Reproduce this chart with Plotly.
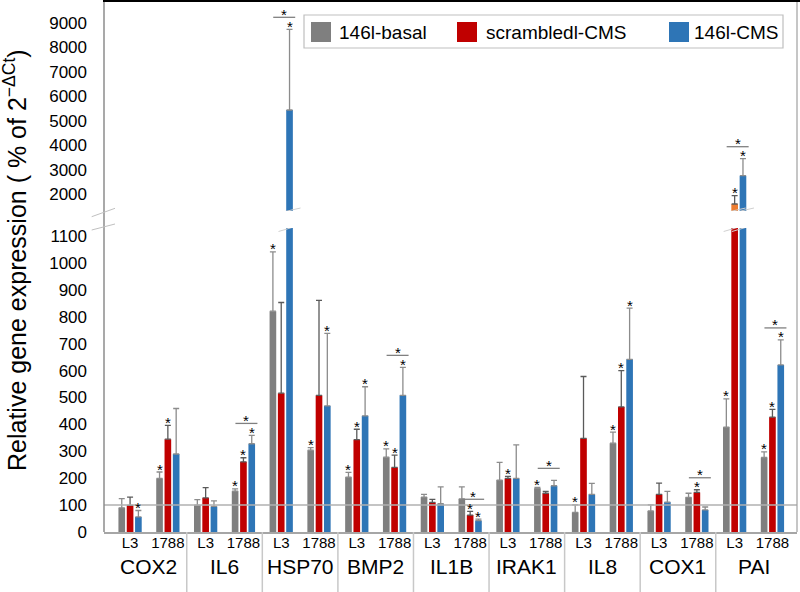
import plotly.graph_objects as go

# ---------------- data ----------------
genes = ["COX2", "IL6", "HSP70", "BMP2", "IL1B", "IRAK1", "IL8", "COX1", "PAI"]
cell_lines = ["L3", "1788"]
series_names = ["146l-basal", "scrambledl-CMS", "146l-CMS"]

basal = [90, 199, 100, 152, 821, 304, 204, 278, 130, 123, 193, 162, 73, 330, 78, 129, 390, 277]
basal_err = [34, 24, 20, 8, 220, 10, 18, 31, 10, 45, 66, 4, 28, 41, 23, 15, 105, 21]
scrambled = [99, 345, 127, 261, 516, 508, 343, 240, 110, 63, 199, 144, 348, 465, 140, 147, 1590, 427]
scrambled_err = [31, 51, 38, 15, 337, 353, 39, 46, 11, 14, 8, 7, 230, 135, 42, 10, 340, 29]
cms = [56, 290, 95, 328, 5438, 469, 432, 508, 105, 42, 199, 172, 140, 642, 111, 82, 2750, 621]
cms_err = [24, 169, 21, 31, 3303, 269, 108, 104, 63, 6, 125, 20, 41, 190, 40, 11, 695, 93]

basal_sig = [0, 1, 0, 1, 1, 1, 1, 1, 0, 0, 0, 1, 1, 1, 0, 0, 1, 1]
scrambled_sig = [0, 1, 0, 1, 0, 0, 1, 1, 0, 1, 1, 0, 0, 1, 0, 1, 1, 1]
cms_sig = [1, 0, 0, 1, 1, 1, 1, 1, 0, 1, 0, 0, 0, 1, 0, 0, 1, 1]
bracket_sig = [0, 0, 0, 1, 1, 0, 0, 1, 0, 1, 0, 1, 0, 0, 0, 1, 1, 1]

lower_ticks = list(range(0, 1101, 100))
upper_ticks = list(range(2000, 9001, 1000))

# ---------------- style ----------------
colors = ["#7f7f7f", "#c00000", "#2e75b6"]
upper_colors = ["#7f7f7f", "#ed7d31", "#2e75b6"]
err_colors = ["#8c8c8c", "#5a5a5a", "#8c8c8c"]
FONT = "Liberation Sans, Arial, sans-serif"
LOW_MAX = 1130
UP_MIN = 1304
W, H = 800, 592
L, R, T, B = 104, 3, 1, 60
PW, PH = W - L - R, H - T - B


def pxx(x):
    return (x - L) / PW


def pyy(y):
    return (H - B - y) / PH


values = [basal, scrambled, cms]
errs = [basal_err, scrambled_err, cms_err]
sigs = [basal_sig, scrambled_sig, cms_sig]

n = len(genes) * len(cell_lines)
xpos = list(range(n))
ticktext = [cl for g in genes for cl in cell_lines]

fig = go.Figure()
for yax, cols in (("y", colors), ("y2", upper_colors)):
    for t in range(3):
        fig.add_trace(go.Bar(
            x=xpos, y=values[t], name=series_names[t], yaxis=yax,
            marker=dict(color=cols[t], line=dict(width=0)),
            error_y=dict(type="data", symmetric=False, array=errs[t],
                         arrayminus=[0] * n, color=err_colors[t],
                         thickness=1.3, width=3),
            showlegend=False, hoverinfo="skip",
        ))

BG, BGG = 0.34, 0.2
slot = (1 - BG) / 3

shapes = []
annotations = []

# reference line at 100
shapes.append(dict(type="line", xref="paper", yref="y", x0=0, x1=1, y0=100, y1=100,
                   line=dict(color="#b0b0b0", width=1.5), layer="above"))
# left axis line
shapes.append(dict(type="line", xref="paper", yref="paper", x0=0, x1=0, y0=0, y1=1,
                   line=dict(color="#8c8c8c", width=1.5)))
# right border
shapes.append(dict(type="line", xref="paper", yref="paper", x0=1, x1=1, y0=0, y1=1,
                   line=dict(color="#a0a0a0", width=1.2)))
# top border
shapes.append(dict(type="line", xref="paper", yref="paper", x0=pxx(103), x1=pxx(800), y0=1, y1=1,
                   line=dict(color="#000000", width=2)))
# axis break marks on the left axis
for (ya, yb) in ((216.7, 208.3), (230, 224)):
    shapes.append(dict(type="line", xref="paper", yref="paper", x0=pxx(91.7), x1=pxx(115),
                       y0=pyy(ya), y1=pyy(yb), line=dict(color="#c0c0c0", width=1)))

# group dividers below the axis
for j in range(1, len(genes)):
    xd = 2 * j - 0.5
    shapes.append(dict(type="line", xref="x", yref="paper", x0=xd, x1=xd, y0=0, y1=-B / PH,
                       line=dict(color="#c8c8c8", width=1.5)))

# gene labels
for j, g in enumerate(genes):
    annotations.append(dict(x=2 * j + 0.5, y=pyy(566), xref="x", yref="paper", text=g,
                            showarrow=False, font=dict(size=21, color="black", family=FONT),
                            xanchor="center", yanchor="middle"))

# break marks on bars that cross the break, and stars
for t in range(3):
    for i in range(n):
        xc = i + (t - 1) * slot
        top = values[t][i] + errs[t][i]
        if values[t][i] > LOW_MAX:
            shapes.append(dict(type="line", xref="x", yref="y", xsizemode="pixel", xanchor=xc,
                               x0=-11, x1=11, ysizemode="pixel", yanchor=LOW_MAX, y0=-3.5, y1=3,
                               line=dict(color="#d0d0d0", width=1)))
            shapes.append(dict(type="line", xref="x", yref="y2", xsizemode="pixel", xanchor=xc,
                               x0=-11, x1=11, ysizemode="pixel", yanchor=UP_MIN, y0=-2, y1=3,
                               line=dict(color="#d0d0d0", width=1)))
        if sigs[t][i]:
            annotations.append(dict(x=xc, y=top, xref="x", yref="y2" if top > LOW_MAX else "y",
                                    text="*", showarrow=False, yanchor="middle", yshift=3,
                                    font=dict(size=15, color="black", family=FONT)))

# brackets
for i in range(n):
    if bracket_sig[i]:
        top = max(scrambled[i] + scrambled_err[i], cms[i] + cms_err[i])
        yr = "y2" if top > LOW_MAX else "y"
        shapes.append(dict(type="line", xref="x", yref=yr, xsizemode="pixel", xanchor=i,
                           x0=-8, x1=14, ysizemode="pixel", yanchor=top, y0=12, y1=12,
                           line=dict(color="#808080", width=1.3)))
        annotations.append(dict(x=i + 0.08, y=top, xref="x", yref=yr, text="*", showarrow=False,
                                yanchor="middle", yshift=15,
                                font=dict(size=15, color="black", family=FONT)))

# manual legend
shapes.append(dict(type="rect", xref="paper", yref="paper", x0=pxx(304), x1=pxx(783),
                   y0=pyy(48), y1=pyy(15), line=dict(color="#bfbfbf", width=1.2),
                   fillcolor="white", layer="above"))
leg_sq = [311, 457, 669]
leg_tx = [337, 484, 692]
for k in range(3):
    shapes.append(dict(type="rect", xref="paper", yref="paper", x0=pxx(leg_sq[k]),
                       x1=pxx(leg_sq[k] + 20), y0=pyy(42), y1=pyy(22),
                       line=dict(width=0), fillcolor=colors[k], layer="above"))
    annotations.append(dict(x=pxx(leg_tx[k]), y=pyy(32), xref="paper", yref="paper",
                            text=series_names[k], showarrow=False, xanchor="left",
                            yanchor="middle", font=dict(size=19, color="black", family=FONT)))

# y axis title
annotations.append(dict(x=pxx(15), y=pyy(260), xref="paper", yref="paper",
                        text="Relative gene expression ( % of 2<sup>−ΔCt</sup>)",
                        textangle=-90, showarrow=False, xanchor="center", yanchor="middle",
                        font=dict(size=25, color="black", family=FONT)))

fig.update_layout(
    template="none",
    width=W, height=H, margin=dict(l=L, r=R, t=T, b=B, autoexpand=False),
    paper_bgcolor="white", plot_bgcolor="white",
    barmode="group", bargap=BG, bargroupgap=BGG,
    font=dict(family=FONT, color="black"),
    hovermode=False,
    xaxis=dict(range=[-0.69, 17.65], tickvals=xpos, ticktext=ticktext, showgrid=False,
               zeroline=False, showline=True, linecolor="#a6a6a6", linewidth=1.5,
               ticks="", tickfont=dict(size=15, color="black"), anchor="y", automargin=False,
               ticklabelstandoff=-4),
    yaxis=dict(domain=[0, pyy(228)], range=[0, LOW_MAX], tickvals=lower_ticks,
               showgrid=False, zeroline=False, showline=False, ticks="", automargin=False,
               tickfont=dict(size=17, color="black"), ticklabelstandoff=16),
    yaxis2=dict(domain=[pyy(211), 1], range=[UP_MIN, 9900], tickvals=upper_ticks,
                showgrid=False, zeroline=False, showline=False, ticks="", anchor="x",
                automargin=False,
                tickfont=dict(size=17, color="black"), ticklabelstandoff=16),
    shapes=shapes, annotations=annotations,
)

fig.write_html("out.html", config={"displayModeBar": False},
               post_script="document.body.style.margin='0';document.body.style.overflow='hidden';")
